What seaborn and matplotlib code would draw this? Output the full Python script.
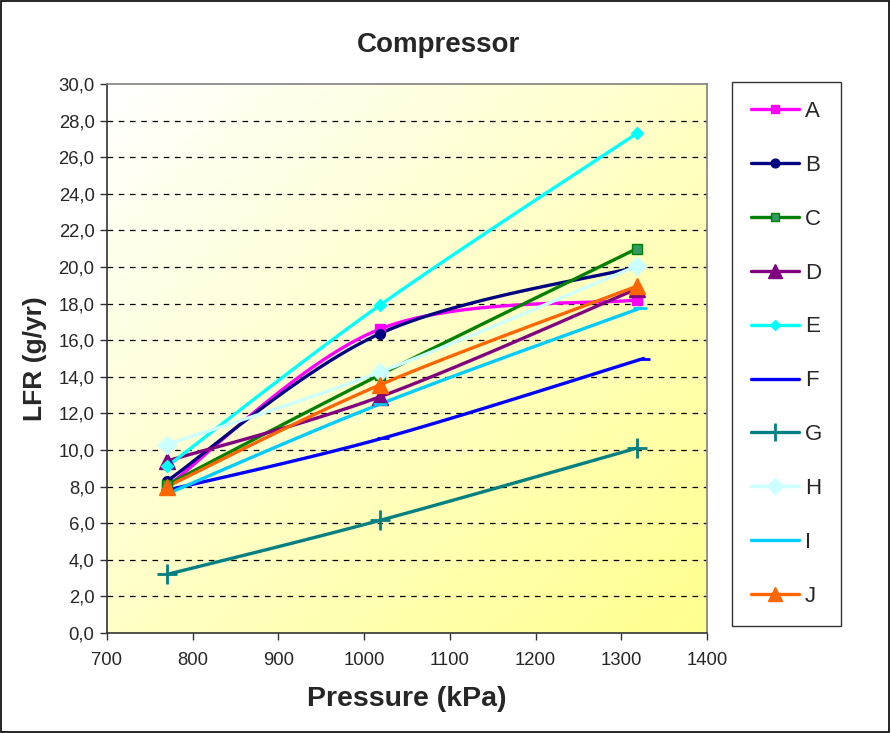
import numpy as np
import pandas as pd
import matplotlib
matplotlib.use("Agg")
import matplotlib.pyplot as plt
import seaborn as sns
from matplotlib.lines import Line2D
from matplotlib.patches import Rectangle
from matplotlib.ticker import FuncFormatter, MultipleLocator

# ---------------- data ----------------
pressure = [770, 1018, 1318]
series_names = ["A", "B", "C", "D", "E", "F", "G", "H", "I", "J"]
A = [8.0, 16.6, 18.2]
B = [8.3, 16.35, 20.0]
C = [8.1, 14.1, 21.0]
D = [9.4, 12.9, 18.8]
E = [9.1, 17.9, 27.3]
F = [7.8, 10.65, 15.0]
G = [3.2, 6.15, 10.1]
H = [10.3, 14.25, 20.05]
I = [7.6, 12.5, 17.75]
J = [8.0, 13.55, 18.95]
F_pressure = [770, 1022, 1326]
I_pressure = [770, 1018, 1322]
values = {"A": A, "B": B, "C": C, "D": D, "E": E, "F": F, "G": G, "H": H, "I": I, "J": J}
xvals = {k: pressure for k in series_names}
xvals["F"] = F_pressure
xvals["I"] = I_pressure

colors = {"A": "#FF00FF", "B": "#000080", "C": "#008000", "D": "#800080",
          "E": "#00FFFF", "F": "#0000FF", "G": "#008080", "H": "#CCFFFF",
          "I": "#00CCFF", "J": "#FF6600"}
markers = {"A": "s", "B": "o", "C": "s", "D": "^", "E": "D", "F": "_",
           "G": "+", "H": "D", "I": "_", "J": "^"}
msizes = {"A": 7, "B": 7, "C": 7, "D": 11, "E": 6, "F": 9, "G": 14,
          "H": 9, "I": 10, "J": 11}
mfaces = {"C": "#339966"}

rows = []
for k in series_names:
    for x, y in zip(xvals[k], values[k]):
        rows.append({"series": k, "pressure": x, "lfr": y})
df = pd.DataFrame(rows)


def smooth(xs, ys, n=40):
    xs = np.asarray(xs, float)
    ys = np.asarray(ys, float)
    P = np.column_stack([xs, ys])
    P = np.vstack([P[0], P, P[-1]])
    out = []
    for i in range(1, len(P) - 2):
        p0, p1, p2, p3 = P[i - 1], P[i], P[i + 1], P[i + 2]
        c1 = p1 + (p2 - p0) / 6.0
        c2 = p2 - (p3 - p1) / 6.0
        t = np.linspace(0, 1, n)[:, None]
        seg = ((1 - t) ** 3) * p1 + 3 * ((1 - t) ** 2) * t * c1 + 3 * (1 - t) * t ** 2 * c2 + t ** 3 * p2
        out.append(seg if i == 1 else seg[1:])
    s = np.vstack(out)
    return s[:, 0], s[:, 1]


sns.set_style("white")
plt.rcParams["font.family"] = ["Liberation Sans", "DejaVu Sans"]

fig = plt.figure(figsize=(8.91, 7.33), dpi=100)
ax = fig.add_axes([107 / 891, 1 - 633 / 733, 600 / 891, 549 / 733])

# gradient background
gx, gy = np.meshgrid(np.linspace(0, 1, 200), np.linspace(0, 1, 200))
g = np.clip((gx + gy) / 2.0, 0, 1)  # 0 at top-left, 1 at bottom-right (origin upper)
c0 = np.array([1.0, 1.0, 1.0])
c1 = np.array([1.0, 1.0, 0.56])
img = c0[None, None, :] * (1 - g[..., None]) + c1[None, None, :] * g[..., None]
ax.imshow(img, extent=[700, 1400, 0, 30], aspect="auto", origin="upper", zorder=0)

ax.set_xlim(700, 1400)
ax.set_ylim(0, 30)

for yv in range(2, 30, 2):
    ax.axhline(yv, color="black", lw=0.9, dashes=(4.5, 4.5), zorder=1)

for k in series_names:
    sx, sy = smooth(xvals[k], values[k])
    ax.plot(sx, sy, color=colors[k], lw=2.4, zorder=2, solid_capstyle="round")

for k in series_names:
    sub = df[df["series"] == k]
    sns.lineplot(data=sub, x="pressure", y="lfr", color=colors[k],
                 marker=markers[k], markersize=msizes[k],
                 markerfacecolor=mfaces.get(k, colors[k]),
                 markeredgecolor=colors[k],
                 markeredgewidth=2 if markers[k] in ("+", "_") else 1,
                 linestyle="none", legend=False, ax=ax, zorder=3,
                 estimator=None, sort=False)

ax.xaxis.set_major_locator(MultipleLocator(100))
ax.yaxis.set_major_locator(MultipleLocator(2))
ax.yaxis.set_major_formatter(FuncFormatter(lambda v, p: f"{v:.1f}".replace(".", ",")))
ax.tick_params(axis="both", direction="out", length=5, width=1, color="#333333",
               labelsize=13.3, pad=4, left=True, bottom=True)
ax.tick_params(axis="x", pad=9)
ax.set_xlabel("Pressure (kPa)", fontsize=20.5, fontweight="bold", labelpad=12)
ax.set_ylabel("LFR (g/yr)", fontsize=19, fontweight="bold", labelpad=8)
for side in ["top", "right"]:
    ax.spines[side].set_color("#808080")
    ax.spines[side].set_linewidth(1.2)
for side in ["left", "bottom"]:
    ax.spines[side].set_color("#333333")
    ax.spines[side].set_linewidth(1.2)
for side in ax.spines:
    ax.spines[side].set_visible(True)

fig.text(438 / 891, 1 - 45 / 733, "Compressor", fontsize=20, fontweight="bold",
         ha="center", va="center")

handles = []
for k in series_names:
    handles.append(Line2D([0], [0], color=colors[k], lw=2.4, marker=markers[k],
                          markersize=msizes[k] * 0.9,
                          markerfacecolor=mfaces.get(k, colors[k]),
                          markeredgecolor=colors[k],
                          markeredgewidth=2 if markers[k] in ("+", "_") else 1))
leg = fig.legend(handles, series_names, loc="upper left",
                 bbox_to_anchor=(732 / 891, 1 - 82 / 733), frameon=True,
                 fontsize=16, labelspacing=1.48, handlelength=2.15,
                 handletextpad=0.28, borderpad=0.85, borderaxespad=0,
                 fancybox=False)
leg.get_frame().set_edgecolor("black")
leg.get_frame().set_linewidth(1.0)

fig.patches.append(Rectangle((0.001, 0.001), 0.997, 0.997, transform=fig.transFigure,
                             fill=False, edgecolor="black", lw=1.2))

fig.savefig("out.png", dpi=100)
